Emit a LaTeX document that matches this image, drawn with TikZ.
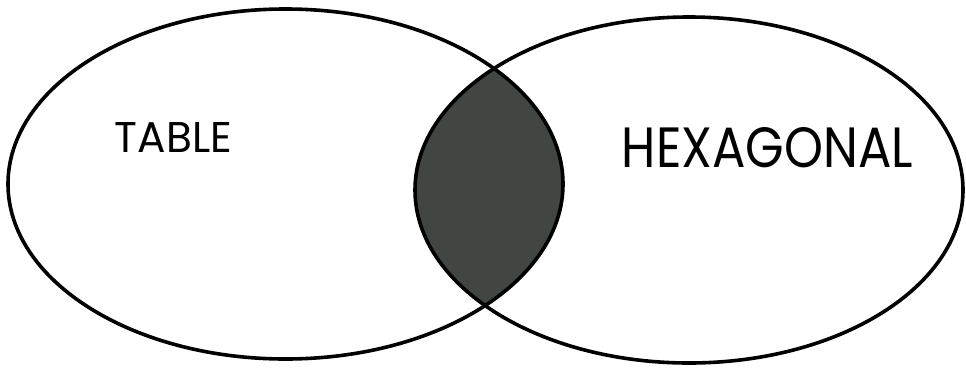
\documentclass[tikz,border=0pt]{standalone}
\usepackage{fontspec}
\setmainfont{Poppins}
\definecolor{lensfill}{RGB}{66,70,66}
\tikzset{
  venn/.style={line width=3.6pt, draw=black},
  lbl/.style={inner sep=0pt, anchor=center, text=black}
}
\begin{document}
\begin{tikzpicture}[x=1pt,y=-1pt]
\useasboundingbox (0,0) rectangle (966,367);
\begin{scope}
  \clip (285.5,184) ellipse [x radius=277.5, y radius=175];
  \fill[lensfill] (689,190) ellipse [x radius=274, y radius=173];
\end{scope}
\draw[venn] (285.5,184) ellipse [x radius=277.5, y radius=175];
\draw[venn] (689,190) ellipse [x radius=274, y radius=173];
\node[lbl] (table) at (173.5,137) {\resizebox{117pt}{30pt}{TABLE}};
\node[lbl] (hex) at (767.5,148) {\resizebox{291pt}{40pt}{HEXAGONAL}};
\end{tikzpicture}
\end{document}
